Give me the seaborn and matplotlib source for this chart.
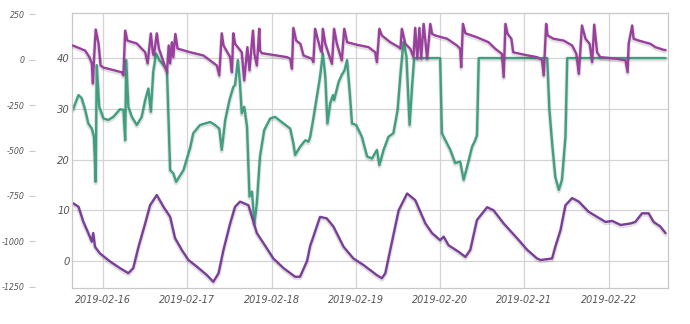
import numpy as np
import pandas as pd
import matplotlib
matplotlib.use("Agg")
import matplotlib.pyplot as plt
import matplotlib.dates as mdates
import matplotlib.patheffects as pe
import seaborn as sns

# ---- data (hours relative to 2019-02-16 00:00) ----
top_hours = [-8.6, -5.1, -3.9, -3.2, -2.9, -2.6, -2.1, -1.3, -0.7, 0.1, 5.3, 5.8, 6.3, 6.9, 9.6,
             12.0, 12.7, 13.6, 14.2, 14.5, 15.3, 15.9, 17.7, 18.2, 18.7, 19.1, 19.6, 20.0, 20.6, 21.2,
             24.8, 28.6, 32.4, 33.1, 33.8, 34.3, 36.2, 36.7, 37.1, 37.6, 39.5, 40.2, 41.1, 41.7, 42.7,
             43.1, 43.8, 44.5, 44.7, 45.2, 52.4, 53.3, 53.8, 54.2, 55.0, 56.2, 57.1, 59.5, 59.9, 60.4,
             61.1, 62.0, 62.3, 62.6, 63.3, 65.2, 65.8, 66.6, 68.0, 68.7, 69.5, 72.3, 75.6, 77.5, 78.0,
             78.7, 79.4, 81.8, 84.2, 84.7, 85.1, 86.1, 87.5, 88.4, 88.9, 89.5, 90.1, 90.6, 91.3, 92.3,
             93.2, 93.7, 94.6, 98.0, 100.8, 101.7, 102.0, 102.5, 103.2, 106.5, 109.8, 111.7, 113.6,
             114.1, 114.6, 115.2, 116.3, 116.8, 119.8, 123.6, 125.0, 125.5, 126.2, 126.6, 128.3, 131.2,
             133.6, 134.8, 135.5, 136.4, 137.4, 138.6, 139.3, 139.9, 140.7, 141.6, 146.4, 148.8, 149.4,
             149.7, 150.7, 151.1, 152.6, 155.9, 157.3, 159.7, 160.2]
top_values = [77, 49, 13, -22, -132, -5, 165, 88, -33, -44, -70, -88, 159, 104, 88,
              40, -22, 143, 33, 22, 144, 60, -42, -70, 77, -22, 95, 13, 141, 60,
              40, 22, -33, -88, 144, 77, 13, -70, 144, 86, 40, -115, 68, -60, 159,
              31, -33, 169, 49, 35, 13, 4, -51, 174, 104, 86, 22, 4, -15, 169,
              114, 49, 40, 169, 86, -24, 169, 86, -5, 169, 95, 81, 68, 40, -15,
              169, 132, 95, 68, 59, 169, 86, 59, 13, 174, 4, 174, 4, 196, 4,
              196, 141, 132, 114, 77, 59, -42, 196, 144, 122, 95, 59, 31,
              -97, 196, 141, 114, 40, 27, 13, -2, -88, 196, 132, 114, 104,
              77, 31, -79, 187, 114, 86, -15, 192, 40, 13, 4, -5, -70,
              86, 187, 114, 104, 86, 68, 53, 52]

green_hours = [-8.6, -7.0, -6.1, -5.1, -4.2, -3.2, -2.6, -2.1, -1.8, -1.1, 0.1, 1.5, 2.9, 4.8, 5.8,
               6.3, 6.6, 7.2, 8.2, 9.6, 11.0, 12.0, 12.9, 13.6, 14.3, 15.1, 16.0, 17.2, 18.2, 19.1,
               20.0, 20.8, 22.9, 24.8, 25.7, 27.6, 30.5, 31.9, 33.1, 33.8, 34.8, 36.0, 37.1, 37.6, 38.4,
               39.0, 39.5, 40.2, 41.0, 41.7, 42.4, 43.1, 43.8, 44.7, 45.9, 47.6, 49.0, 51.4, 53.3, 54.2,
               54.7, 56.1, 57.6, 58.5, 59.0, 59.9, 60.9, 61.8, 62.6, 63.3, 63.9, 64.7, 65.5, 65.8, 67.1,
               68.0, 68.8, 69.5, 70.2, 70.9, 72.1, 73.7, 75.2, 76.6, 78.0, 78.7, 79.9, 81.3, 82.7, 83.9,
               84.8, 85.6, 86.4, 87.3, 88.0, 88.6, 88.9, 96.0, 96.5, 97.5, 98.9, 100.3, 101.7, 102.7,
               103.7, 105.1, 106.0, 106.5, 107.0, 126.5, 127.1, 127.9, 128.8, 129.8, 130.7, 131.7, 132.2,
               160.2]
green_values = [29.8, 32.7, 32.1, 29.8, 27.1, 26.1, 24.5, 15.6, 38.6, 30.4, 28.1, 27.8, 28.4, 29.9, 29.8,
                23.8, 39.6, 30.4, 28.4, 26.8, 28.4, 31.7, 34.0, 29.4, 37.3, 40.9, 39.6, 38.6, 37.6, 17.9,
                17.3, 15.6, 17.9, 22.3, 25.2, 26.8, 27.4, 26.8, 26.1, 21.9, 27.8, 31.7, 34.3, 34.7, 39.6,
                35.0, 29.1, 30.4, 26.5, 12.7, 13.7, 7.4, 11.4, 20.6, 25.8, 28.1, 28.4, 27.1, 26.1, 23.2,
                20.9, 22.5, 23.8, 23.5, 24.5, 28.1, 32.4, 36.3, 40.9, 36.3, 27.1, 31.1, 32.7, 31.7, 35.3,
                36.7, 37.6, 39.6, 33.7, 27.1, 26.8, 24.5, 20.6, 20.2, 21.9, 18.9, 21.9, 24.5, 25.2, 29.8,
                37.6, 43.2, 40.3, 26.8, 34.3, 39.9, 40.0, 40.0, 25.2, 23.8, 21.9, 19.3, 19.6, 16.0,
                18.6, 22.5, 23.8, 24.8, 40.0, 40.0, 30.0, 23.2, 16.6, 14.0, 16.0, 24.5, 40.0,
                40.0]

low_hours = [-8.6, -7.0, -5.6, -4.2, -3.2, -2.8, -2.3, -0.9, 2.0, 4.8, 7.2, 8.6, 10.1, 12.0, 13.4,
             15.3, 17.2, 19.1, 20.5, 22.4, 24.3, 26.7, 29.6, 31.4, 32.9, 34.3, 36.2, 37.6, 39.0, 41.4,
             43.8, 45.7, 48.5, 51.4, 54.7, 56.1, 58.1, 59.0, 59.9, 61.8, 63.7, 65.6, 68.5, 71.3, 74.2,
             78.0, 79.4, 80.4, 81.8, 84.2, 86.6, 88.9, 91.8, 93.7, 96.0, 97.0, 98.4, 101.3, 103.2,
             104.6, 106.5, 109.4, 111.2, 114.1, 117.9, 120.8, 123.6, 124.6, 127.9, 128.8, 130.3, 131.7,
             133.6, 135.5, 138.3, 140.7, 143.1, 145.0, 147.4, 150.2, 151.6, 153.5, 155.4, 156.8, 158.7,
             160.2]
low_values = [11.4, 10.7, 7.7, 5.5, 3.8, 5.5, 2.8, 1.5, -0.1, -1.4, -2.4, -1.4, 2.8, 7.4, 11.0,
              13.0, 10.7, 8.7, 4.5, 2.2, 0.2, -1.1, -2.8, -4.1, -2.4, 2.2, 7.4, 10.7, 11.7, 11.0,
              5.5, 3.5, 0.5, -1.4, -3.1, -3.1, 0.0, 3.0, 4.8, 8.7, 8.4, 6.8, 2.8, 0.5, -0.8,
              -2.8, -3.4, -2.4, 2.2, 10.0, 13.3, 12.0, 7.4, 5.5, 4.1, 4.8, 3.1, 1.8, 0.8,
              2.2, 8.1, 10.6, 10.0, 7.4, 4.5, 2.2, 0.5, 0.2, 0.5, 2.8, 6.1, 11.0,
              12.4, 11.7, 9.7, 8.7, 7.7, 7.9, 7.1, 7.4, 7.7, 9.4, 9.4, 7.7, 6.8,
              5.5]

inner_ticks = [0, 10, 20, 30, 40]
outer_ticks = [250, 0, -250, -500, -750, -1000, -1250]
date_ticks = ["2019-02-16", "2019-02-17", "2019-02-18", "2019-02-19",
              "2019-02-20", "2019-02-21", "2019-02-22"]

base = pd.Timestamp("2019-02-16")
def to_df(h, v):
    return pd.DataFrame({"t": base + pd.to_timedelta(h, unit="h"), "v": v})

df_top = to_df(top_hours, top_values)
df_green = to_df(green_hours, green_values)
df_low = to_df(low_hours, low_values)

sns.set_style("white")
plt.rcParams["font.family"] = ["DejaVu Sans"]

fig = plt.figure(figsize=(6.9, 3.24), dpi=100)
ax = fig.add_axes([72 / 690, 36 / 324, (668 - 72) / 690, (288 - 13) / 324])
ax2 = ax.twinx()

shadow = [pe.SimpleLineShadow(offset=(0, -1.0), shadow_color="#000000", alpha=0.12, linewidth=3.0), pe.Normal()]

sns.lineplot(data=df_green, x="t", y="v", ax=ax, color="#3f9f80", lw=1.7,
             estimator=None, sort=False, path_effects=shadow)
sns.lineplot(data=df_low, x="t", y="v", ax=ax, color="#7a3e98", lw=1.7,
             estimator=None, sort=False, path_effects=shadow)
sns.lineplot(data=df_top, x="t", y="v", ax=ax2, color="#993f9c", lw=1.7,
             estimator=None, sort=False, path_effects=shadow)

xmin = base - pd.Timedelta(hours=8.85)
xmax = base + pd.Timedelta(hours=160.9)
ax.set_xlim(xmin, xmax)
ax.set_ylim(-5.32, 48.87)
ax2.set_ylim(-1255.5, 255.5)

ax.set_yticks(inner_ticks)
ax.set_yticklabels([str(t) for t in inner_ticks])
ax2.set_yticks(outer_ticks)
ax2.set_yticklabels([str(t) for t in outer_ticks])
ax.set_xticks([pd.Timestamp(d) for d in date_ticks])
ax.set_xticklabels(date_ticks)

ax.set_xlabel("")
ax.set_ylabel("")
ax2.set_xlabel("")
ax2.set_ylabel("")

ax.grid(True, color="#d4d4d4", lw=0.9)
for s in ax.spines.values():
    s.set_visible(True)
    s.set_color("#c8c8c8")
    s.set_linewidth(0.9)

ax.tick_params(axis="y", length=0, pad=1.5, labelsize=7.2, labelcolor="#555555")
ax.tick_params(axis="x", length=0, pad=5, labelsize=6.9, labelcolor="#555555")
for lab in ax.get_yticklabels() + ax.get_xticklabels():
    lab.set_fontstyle("italic")

ax2.yaxis.set_ticks_position("left")
ax2.yaxis.set_label_position("left")
ax2.spines["left"].set_position(("outward", 27))
ax2.spines["left"].set_linewidth(0)
for k in ["right", "top", "bottom"]:
    ax2.spines[k].set_visible(False)
ax2.tick_params(axis="y", length=4, width=0.8, color="#c8c8c8", pad=3,
                labelsize=5.7, labelcolor="#555555")
for lab in ax2.get_yticklabels():
    lab.set_fontstyle("italic")
ax2.patch.set_visible(False)

fig.savefig("out.png", dpi=100)
